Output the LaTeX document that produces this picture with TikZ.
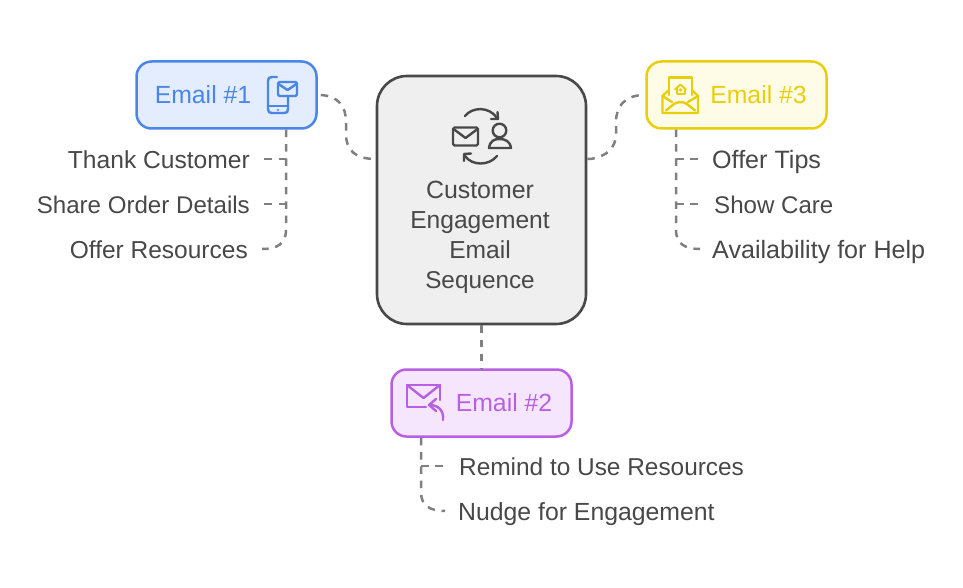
\documentclass[tikz,border=0pt]{standalone}
\usepackage{fontspec}
\setmainfont{Liberation Sans}
\usetikzlibrary{arrows.meta}
\definecolor{cblue}{HTML}{4A86E8}\definecolor{fblue}{HTML}{E3EDFD}
\definecolor{cyel}{HTML}{E8CF0C}\definecolor{fyel}{HTML}{FEFCE6}
\definecolor{cpur}{HTML}{B860E4}\definecolor{fpur}{HTML}{F6E6FD}
\definecolor{cgr}{HTML}{484848}\definecolor{fgr}{HTML}{EFEFEF}
\definecolor{dashc}{HTML}{808080}
\tikzset{
 emailbox/.style={draw=#1,line width=2.5pt,rounded corners=15pt,minimum width=180pt,minimum height=67pt,inner sep=0pt},
 centerbox/.style={draw=cgr,fill=fgr,line width=2.6pt,rounded corners=30pt,minimum width=209pt,minimum height=248pt,inner sep=0pt},
 conn/.style={draw=dashc,line width=2.5pt,dash pattern=on 7.5pt off 6.8pt},
 lab/.style={text=cgr,font=\fontsize{#1}{30}\selectfont,inner sep=0pt},
 head/.style={font=\fontsize{24.8}{30}\selectfont,inner sep=0pt,text=#1,anchor=base},
 ico/.style={draw=#1,line width=2.4pt,line join=round,line cap=round},
}
\begin{document}
\begin{tikzpicture}[x=1pt,y=-1pt]
\useasboundingbox (0,0) rectangle (963,588);
\fill[white] (0,0) rectangle (963,588);
% boxes
\node[centerbox] (c) at (481.5,200) {};
\node[emailbox=cblue,fill=fblue] (b1) at (226.5,95) {};
\node[emailbox=cyel,fill=fyel] (b3) at (736.5,95) {};
\node[emailbox=cpur,fill=fpur] (b2) at (481.5,403) {};
% titles
\node[lab=24.9,anchor=base] (ct1) at (480,198) {Customer};
\node[lab=24.6,anchor=base] (ct2) at (480,228) {Engagement};
\node[lab=24.6,anchor=base] (ct3) at (480,258) {Email};
\node[lab=24.3,anchor=base] (ct4) at (480,288) {Sequence};
\node[head=cblue] (h1) at (203,104) {Email \#1};
\node[head=cyel] (h3) at (758.5,104) {Email \#3};
\node[head=cpur] (h2) at (504,411) {Email \#2};
% labels
\node[lab=24.6,anchor=base east] (l11) at (250,168) {Thank Customer};
\node[lab=24.1,anchor=base east] (l12) at (250,213) {Share Order Details};
\node[lab=24.5,anchor=base east] (l13) at (248,258) {Offer Resources};
\node[lab=25.1,anchor=base west] (l31) at (712,168) {Offer Tips};
\node[lab=24.1,anchor=base west] (l32) at (714,213) {Show Care};
\node[lab=25.1,anchor=base west] (l33) at (712,258) {Availability for Help};
\node[lab=24.4,anchor=base west] (l21) at (459,475) {Remind to Use Resources};
\node[lab=24.8,anchor=base west] (l22) at (458,520) {Nudge for Engagement};
% main connectors
\draw[conn] ([xshift=3pt]b1.east) .. controls (338,96) and (346,106) .. (346,122) -- (346,134) .. controls (346,150) and (355,159) .. (c.west |- 0,159);
\draw[conn] (c.east |- 0,159) -- (590,159) .. controls (606,157) and (616,148) .. (616,134) -- (616,122) .. controls (616,106) and (625,96) .. ([xshift=-3pt]b3.west);
\draw[conn] (c.south) -- (b2.north);
% branches email 1
\draw[conn] (b1.south -| 286,0) -- (286,230) .. controls (286,243) and (278,249) .. (262,249);
\draw[conn] (286,159) -- ([xshift=14pt]l11.east |- 0,159);
\draw[conn] (286,204) -- ([xshift=14pt]l12.east |- 0,204);
% branches email 3
\draw[conn] (b3.south -| 676,0) -- (676,230) .. controls (676,243) and (684,249) .. (700,249);
\draw[conn] (676,159) -- ([xshift=-13pt]l31.west |- 0,159);
\draw[conn] (676,204) -- ([xshift=-15pt]l32.west |- 0,204);
% branches email 2
\draw[conn] (b2.south -| 421,0) -- (421,492) .. controls (421,505) and (429,511) .. (445,511);
\draw[conn] (421,466) -- ([xshift=-15pt]l21.west |- 0,466);
% icon phone
\begin{scope}
\draw[ico=cblue] (277,77) -- (272,77) .. controls (269,77) and (268,78) .. (268,81) -- (268,109) .. controls (268,112) and (269,113) .. (272,113) -- (284,113) .. controls (287,113) and (288,112) .. (288,109) -- (288,97);
\draw[ico=cblue] (268,106) -- (288,106);
\fill[cblue] (278,110) circle (1.1);
\draw[ico=cblue,rounded corners=2pt] (278,82) rectangle (297,96);
\draw[ico=cblue] (278.5,84) -- (287.5,90) -- (296.5,84);
\end{scope}
% icon email 3
\begin{scope}
\draw[ico=cyel] (669,95) -- (669,77.5) -- (692,77.5) -- (692,95);
\draw[ico=cyel] (669,90) -- (662.5,96) -- (662.5,113) -- (698,113) -- (698,96) -- (692,90);
\draw[ico=cyel] (662.5,96) -- (672,102);
\draw[ico=cyel] (698,96) -- (688,102);
\draw[ico=cyel] (666,110.5) -- (674,104) .. controls (678,101.5) and (683,101.5) .. (687,104) -- (695,110.5);
\draw[ico=cyel,line width=2pt] (675,89.5) -- (680.5,84.5) -- (686,89.5);
\draw[ico=cyel,line width=2pt] (676.5,88.5) -- (676.5,94) -- (684.5,94) -- (684.5,88.5);
\fill[cyel] (680.5,90) circle (1.8);
\end{scope}
% icon email 2
\begin{scope}
\draw[ico=cpur] (426,407) -- (407,407) -- (407,385) -- (440,385) -- (440,400);
\draw[ico=cpur] (407,385) -- (423.5,398) -- (440,385);
\draw[ico=cpur] (443,420) .. controls (444,410) and (438,405) .. (429,405);
\draw[ico=cpur] (436,399) -- (429,405) -- (436,411);
\end{scope}
% icon centre
\begin{scope}
\draw[ico=cgr,rounded corners=1.5pt] (453,127.5) rectangle (478,145.5);
\draw[ico=cgr] (453.5,129) -- (465.5,138) -- (477.5,129);
\draw[ico=cgr] (499.5,130.5) circle (6.8);
\draw[ico=cgr] (489,148) .. controls (490,141) and (494,139) .. (499.5,139) .. controls (505,139) and (510,141) .. (511,148) -- cycle;
\draw[ico=cgr] (465,116) .. controls (472,107) and (489,106) .. (497,118);
\draw[ico=cgr] (497.5,112) -- (498,119) -- (491,119);
\draw[ico=cgr] (497,156) .. controls (489,166) and (472,166) .. (465,156);
\draw[ico=cgr] (464,161) -- (464,154) -- (471,153.5);
\end{scope}
\end{tikzpicture}
\end{document}
